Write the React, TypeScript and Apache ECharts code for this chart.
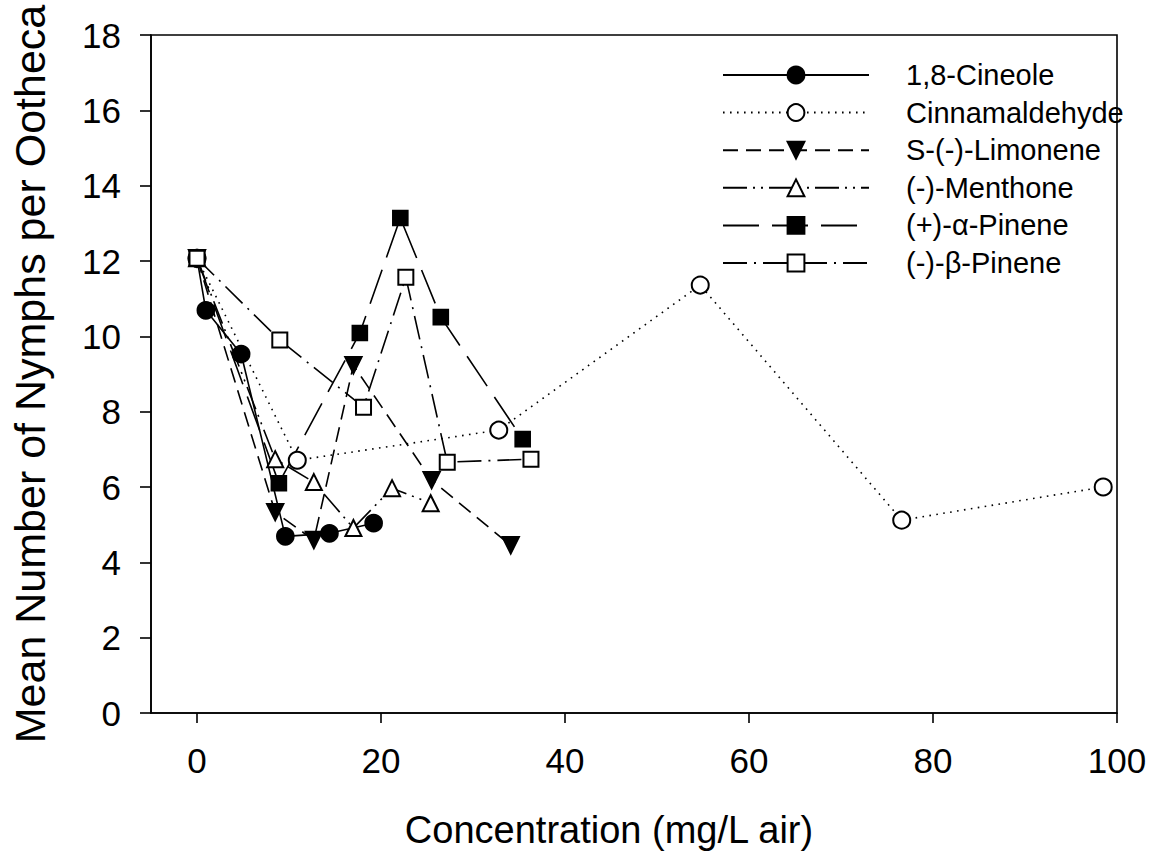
import React, { useEffect, useRef } from "react";
import * as echarts from "echarts";

const seriesNames = [
  "1,8-Cineole",
  "Cinnamaldehyde",
  "S-(-)-Limonene",
  "(-)-Menthone",
  "(+)-α-Pinene",
  "(-)-β-Pinene",
];

const cineoleX = [0, 0.96, 4.8, 9.6, 14.4, 19.2];
const cineoleY = [12.07, 10.69, 9.53, 4.69, 4.77, 5.04];

const cinnamaldehydeX = [0, 10.9, 32.8, 54.7, 76.6, 98.5];
const cinnamaldehydeY = [12.07, 6.71, 7.51, 11.36, 5.12, 6.0];

const limoneneX = [0, 8.5, 12.7, 17.0, 25.5, 34.1];
const limoneneY = [12.07, 5.33, 4.59, 9.23, 6.18, 4.45];

const menthoneX = [0, 8.5, 12.7, 17.0, 21.2, 25.4];
const menthoneY = [12.07, 6.74, 6.13, 4.91, 5.97, 5.57];

const alphaPineneX = [0, 8.9, 17.7, 22.1, 26.5, 35.4];
const alphaPineneY = [12.07, 6.1, 10.09, 13.14, 10.51, 7.27];

const betaPineneX = [0, 9.0, 18.1, 22.7, 27.2, 36.3];
const betaPineneY = [12.07, 9.9, 8.12, 11.57, 6.66, 6.74];

const xTickValues = [0, 20, 40, 60, 80, 100];

const FONT = "'Liberation Sans', Arial, Helvetica, sans-serif";

function pairs(xs: number[], ys: number[]) {
  return xs.map((x, i) => [x, ys[i]]);
}

function makeSeries(
  name: string,
  xs: number[],
  ys: number[],
  symbol: string,
  size: number,
  rotate: number,
  dash: any
) {
  return {
    name,
    type: "line",
    data: pairs(xs, ys),
    symbol,
    symbolSize: size,
    symbolRotate: rotate,
    showAllSymbol: true,
    lineStyle: { color: "#000", width: 1.6, type: dash },
    itemStyle: { color: "#000", borderColor: "#000", borderWidth: 1.6 },
    emphasis: { disabled: true },
    z: 3,
  };
}

export default function App() {
  const ref = useRef<HTMLDivElement>(null);

  useEffect(() => {
    if (!ref.current) return;
    const chart = echarts.init(ref.current, undefined, { renderer: "svg" });
    const option: any = {
      animation: false,
      backgroundColor: "#fff",
      textStyle: { fontFamily: FONT, color: "#000" },
      grid: {
        left: 149,
        right: 49,
        top: 35,
        bottom: 150,
        show: true,
        borderColor: "#000",
        borderWidth: 1.6,
        backgroundColor: "transparent",
      },
      legend: {
        orient: "vertical",
        left: 722,
        top: 60,
        padding: 0,
        itemWidth: 146,
        itemHeight: 21,
        itemGap: 7.6,
        selectedMode: false,
        data: seriesNames,
        textStyle: {
          fontFamily: FONT,
          fontSize: 29,
          color: "#000",
          lineHeight: 30,
          padding: [0, 0, 0, 32],
        },
      },
      xAxis: {
        type: "value",
        min: -5,
        max: 100,
        name: "Concentration (mg/L air)",
        nameLocation: "middle",
        nameGap: 98,
        nameTextStyle: {
          fontFamily: FONT,
          fontSize: 38,
          color: "#000",
          padding: [0, 50, 0, 0],
        },
        axisLine: { onZero: false, lineStyle: { color: "#000", width: 1.6 } },
        axisTick: {
          show: true,
          length: 10,
          customValues: xTickValues,
          lineStyle: { color: "#000", width: 1.6 },
        },
        axisLabel: {
          customValues: xTickValues,
          fontFamily: FONT,
          fontSize: 35,
          color: "#000",
          margin: 30,
        },
        splitLine: { show: false },
      },
      yAxis: {
        type: "value",
        min: 0,
        max: 18,
        interval: 2,
        name: "Mean Number of Nymphs per Ootheca",
        nameLocation: "middle",
        nameGap: 100,
        nameTextStyle: { fontFamily: FONT, fontSize: 43, color: "#000" },
        axisLine: { show: true, onZero: false, lineStyle: { color: "#000", width: 1.6 } },
        axisTick: { show: true, length: 11, lineStyle: { color: "#000", width: 1.6 } },
        axisLabel: { fontFamily: FONT, fontSize: 35, color: "#000", margin: 30 },
        splitLine: { show: false },
      },
      series: [
        makeSeries(seriesNames[0], cineoleX, cineoleY, "circle", 17, 0, "solid"),
        makeSeries(seriesNames[1], cinnamaldehydeX, cinnamaldehydeY, "emptyCircle", 17, 0, [1.6, 5.4]),
        makeSeries(seriesNames[2], limoneneX, limoneneY, "triangle", 17, 180, [15, 8]),
        makeSeries(seriesNames[3], menthoneX, menthoneY, "emptyTriangle", 16, 0, [24, 6, 2, 6, 2, 6]),
        makeSeries(seriesNames[4], alphaPineneX, alphaPineneY, "rect", 15, 0, [36, 13]),
        makeSeries(seriesNames[5], betaPineneX, betaPineneY, "emptyRect", 15, 0, [24, 7, 2, 7]),
      ],
    };
    chart.setOption(option);
    return () => chart.dispose();
  }, []);

  return (
    <div
      ref={ref}
      style={{ position: "fixed", left: 0, top: 0, width: 1166, height: 863, background: "#fff" }}
    />
  );
}
